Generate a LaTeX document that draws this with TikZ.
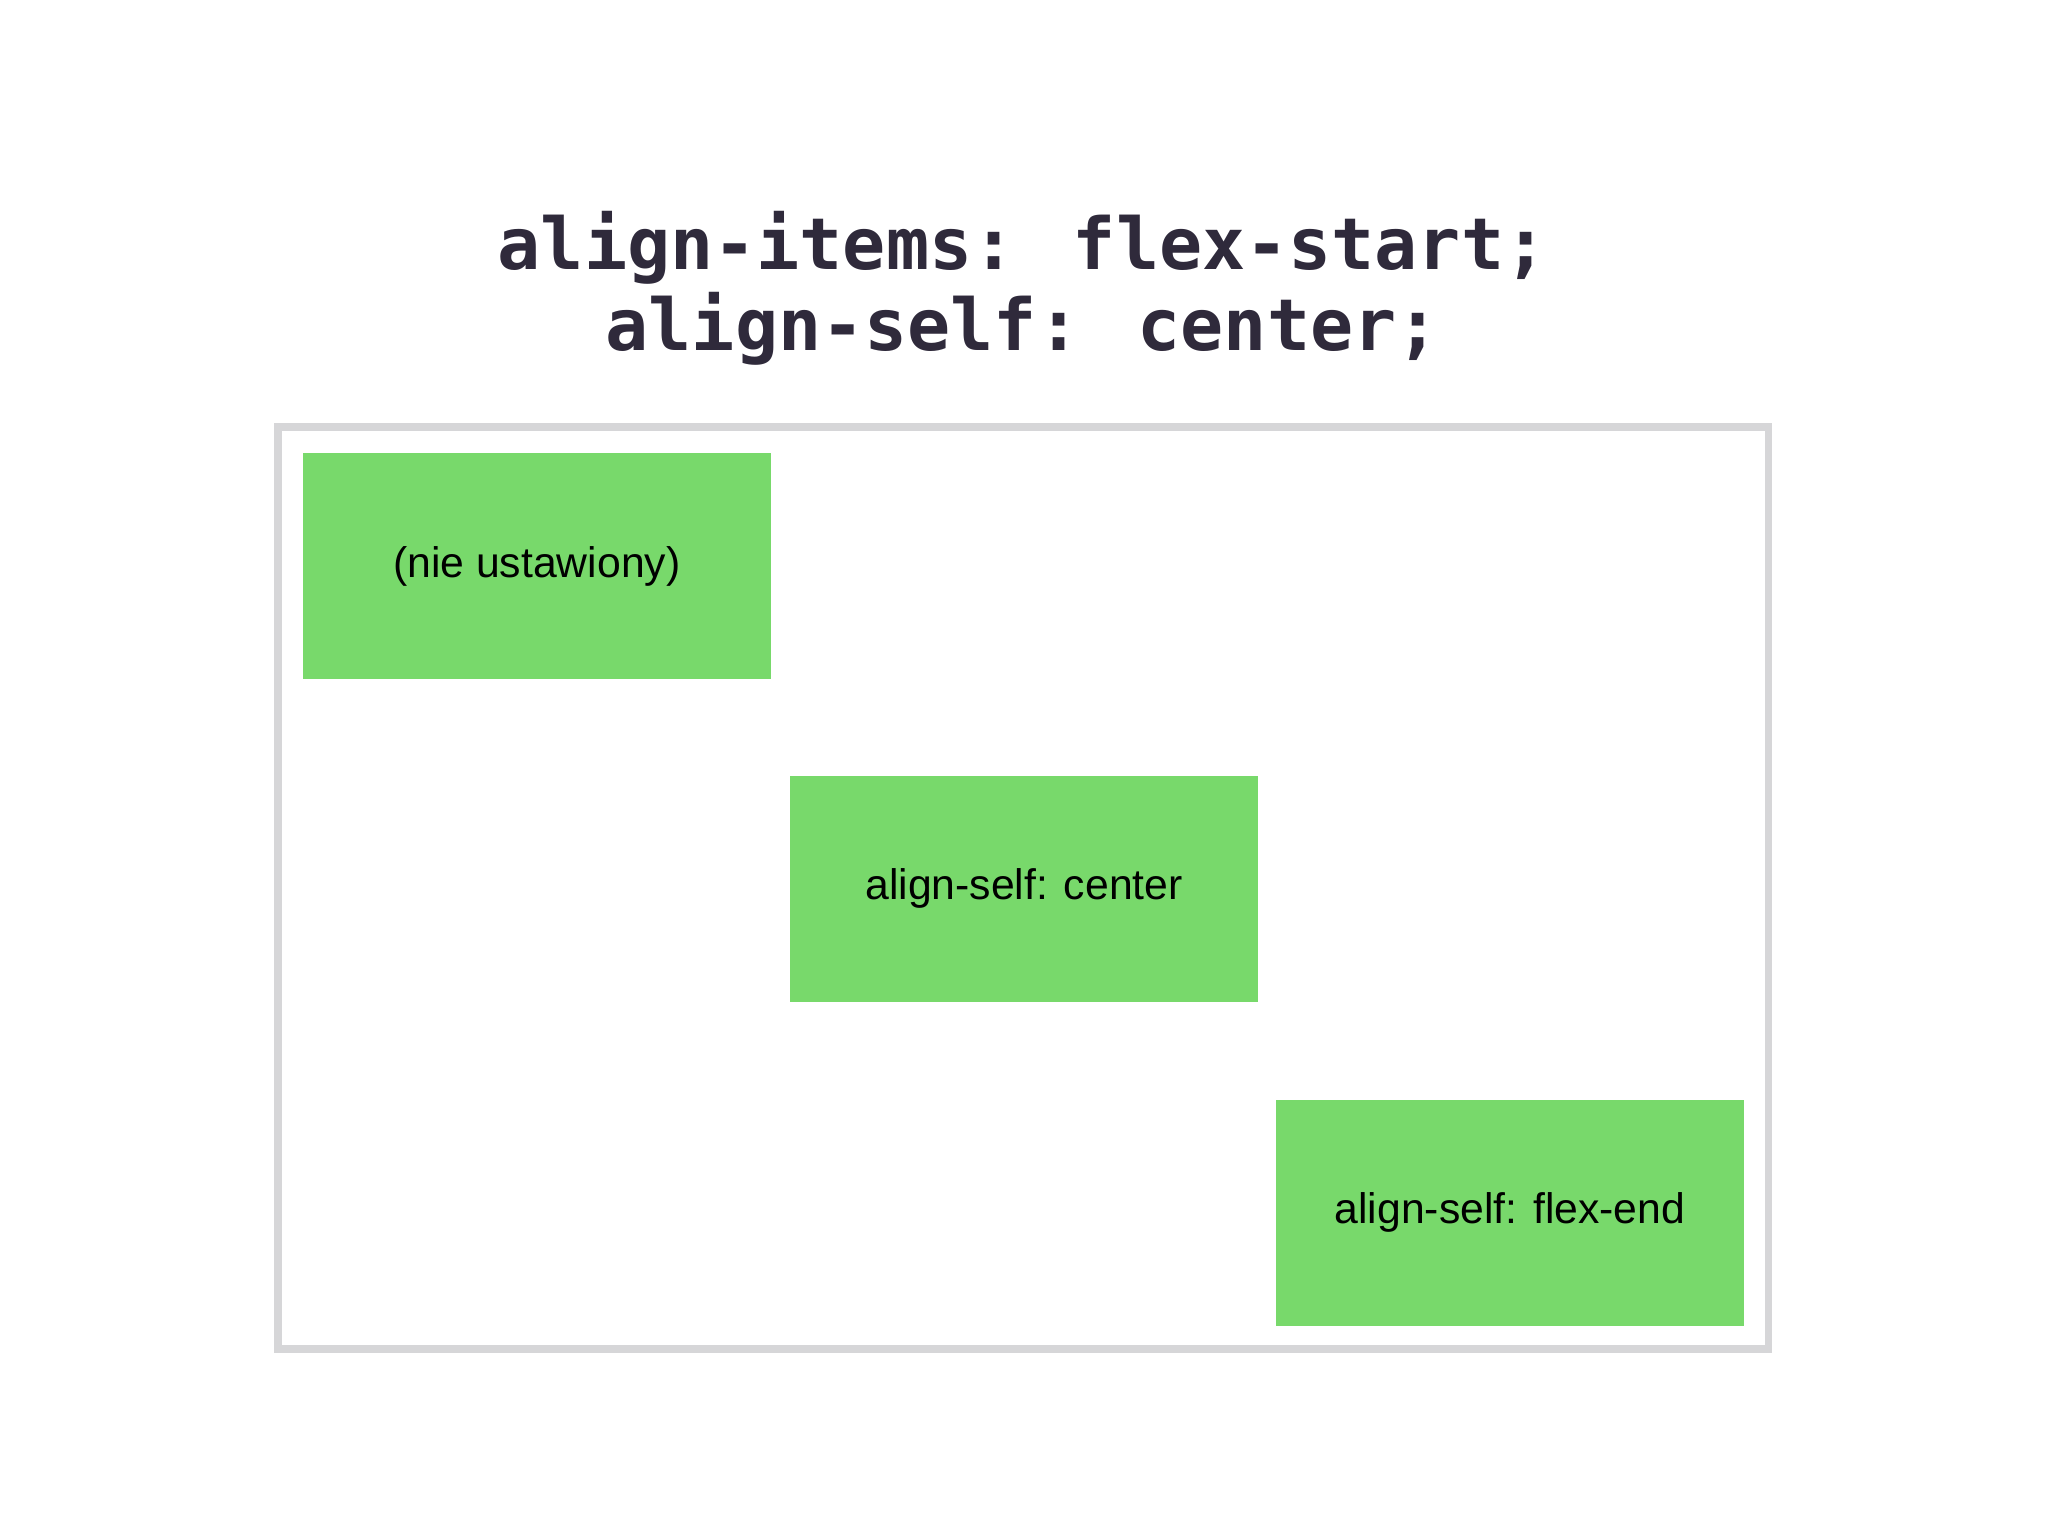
\documentclass[tikz,border=0pt]{standalone}
\usepackage{fontspec}
\setmainfont{Liberation Sans}
\newfontfamily\codefont{DejaVu Sans Mono}
\definecolor{boxgreen}{HTML}{78D96B}
\definecolor{frame}{HTML}{D6D6D8}
\definecolor{code}{HTML}{2F2A3B}
\begin{document}
\begin{tikzpicture}[x=0.01cm,y=-0.01cm,
  item/.style={fill=boxgreen,draw=none,inner sep=0pt,minimum width=358*0.01cm,minimum height=173*0.01cm,font=\fontsize{9.3}{11}\selectfont},
  title/.style={text=code,font=\codefont\bfseries\fontsize{15.6}{18}\selectfont}]
\useasboundingbox (0,0) rectangle (1568,1176);
\draw[frame,line width=6*0.01cm] (213,327) rectangle (1354,1033);
\node[item] (a) at (411,433.5) {(nie ustawiony)};
\node[item] (b) at (784,680.5) {align-self: center};
\node[item] (c) at (1156,928.5) {align-self: flex-end};
\node[title] (t1) at (783,190) {align-items: flex-start;};
\node[title] (t2) at (783,252) {align-self: center;};
\end{tikzpicture}
\end{document}
